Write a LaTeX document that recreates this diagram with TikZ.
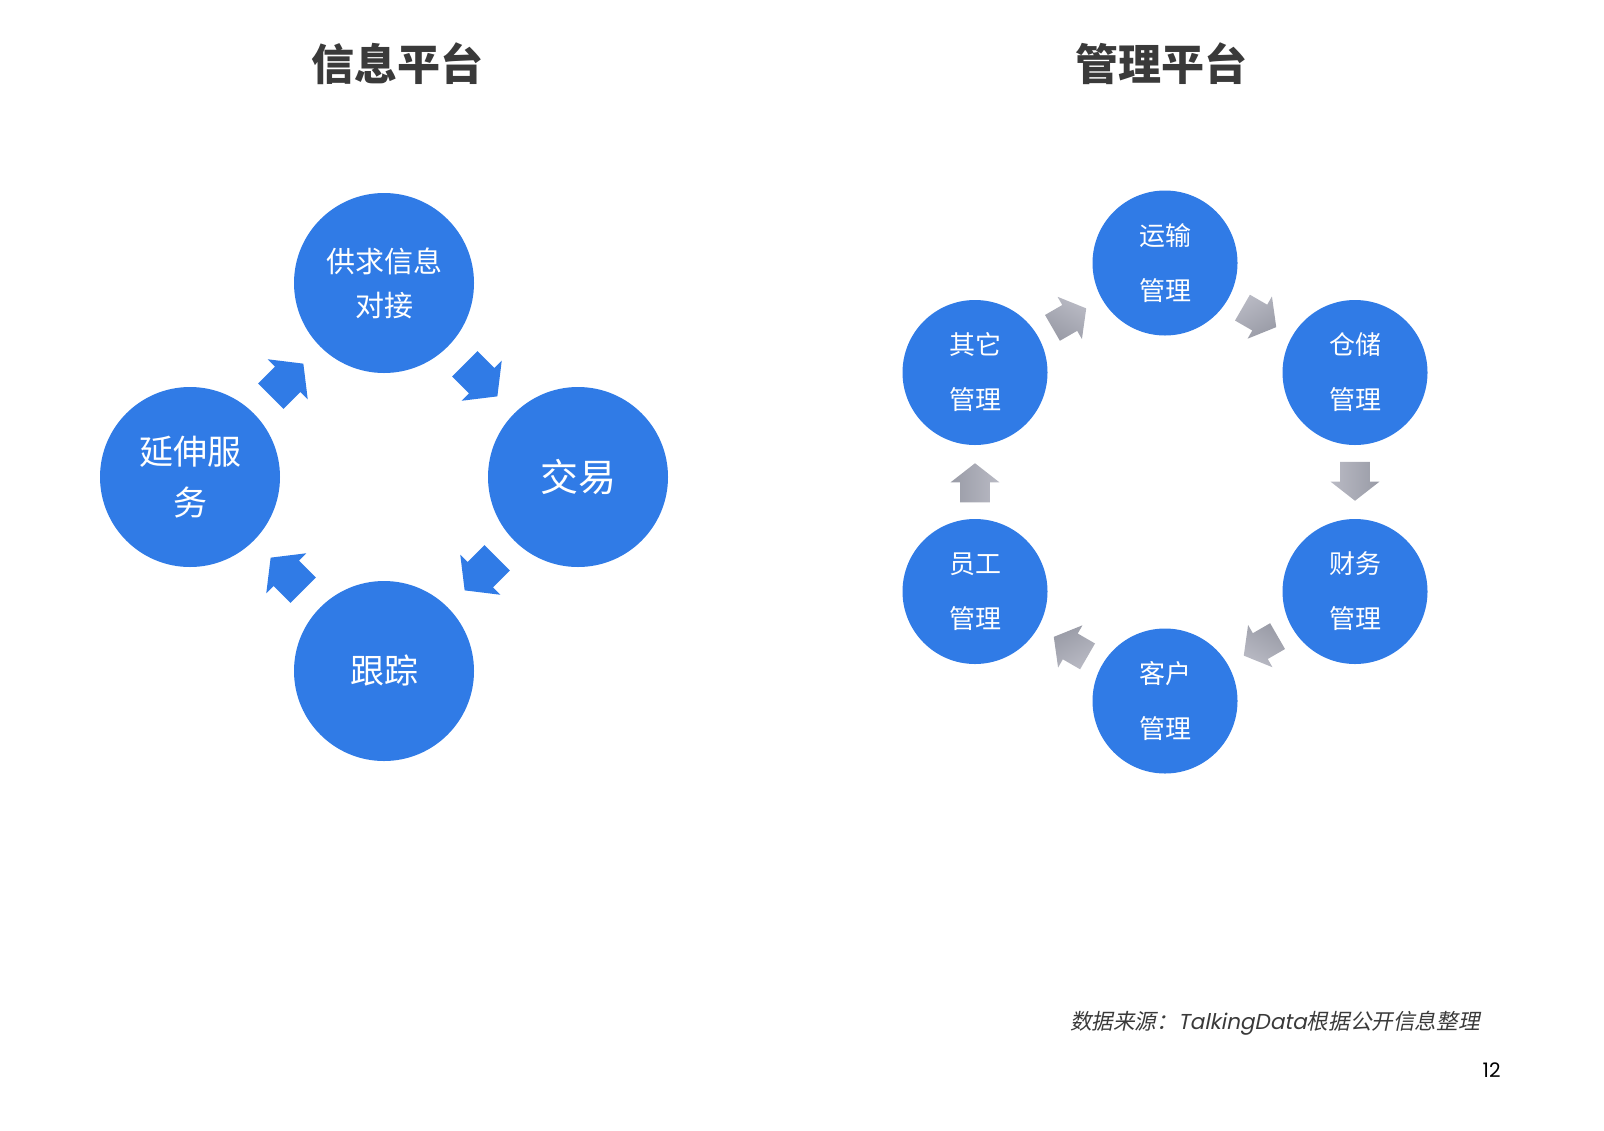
\documentclass[tikz,border=0pt]{standalone}
\usepackage{fontspec}
\newfontfamily\cjk{Noto Sans CJK SC}
\newfontfamily\cjkslant[FakeSlant=0.2]{Noto Sans CJK SC}
\newfontfamily\popslant[FakeSlant=0.2]{Poppins}
\newfontfamily\pop{Poppins}
\usetikzlibrary{calc,shapes.arrows}

\definecolor{circblue}{HTML}{307BE6}
\definecolor{titlegray}{HTML}{3A3A3A}
\definecolor{arrowlight}{HTML}{B9BAC4}
\definecolor{arrowdark}{HTML}{999BA6}

\tikzset{
  title/.style={text=titlegray, font=\cjk\bfseries\fontsize{21.5}{26}\selectfont},
  bigcirc/.style={circle, fill=circblue, minimum size=90pt, inner sep=0pt, text=white, align=center},
  smallcirc/.style={circle, fill=circblue, minimum size=72.5pt, inner sep=0pt, text=white, align=center,
    font=\cjk\fontsize{13}{27.5}\selectfont},
  bluearrow/.style={single arrow, fill=circblue, inner xsep=0pt, inner ysep=8.75pt, minimum height=23pt,
    single arrow head extend=5.25pt, single arrow tip angle=104, rotate=#1},
  grayarrow/.style={single arrow, top color=arrowlight, bottom color=arrowdark,
    shading angle=-#1, rotate=#1, inner xsep=0pt, inner ysep=7.25pt, minimum height=19.5pt,
    single arrow head extend=4.75pt, single arrow tip angle=104},
}

\begin{document}
\begin{tikzpicture}[x=0.5pt, y=-0.5pt]
  \useasboundingbox (0,0) rectangle (1604,1130);

  % =========================================================================
  % TITLES
  % =========================================================================
  \node[title] (t-info) at (397,64) {信息平台};
  \node[title] (t-mgmt) at (1161,64) {管理平台};

  % =========================================================================
  % LEFT: information platform, four circles
  % =========================================================================
  \begin{scope}[shift={(384,477)}]
    \node[bigcirc, font=\cjk\fontsize{14.5}{22}\selectfont] (match) at (0,-194) {供求信息\\对接};
    \node[bigcirc, font=\cjk\fontsize{19}{24}\selectfont] (trade) at (194,0) {交易};
    \node[bigcirc, font=\cjk\fontsize{17}{22}\selectfont] (track) at (0,194) {跟踪};
    \node[bigcirc, font=\cjk\fontsize{17}{25.5}\selectfont] (extend) at (-194,0) {延伸服\\务};
  \end{scope}

  % --- block arrows between them ---
  \node[bluearrow=-45] (a-mt) at ($(match)!0.475!(trade)$) {};
  \node[bluearrow=-135] (a-tt) at ($(trade)!0.475!(track)$) {};
  \node[bluearrow=135] (a-te) at ($(track)!0.475!(extend)$) {};
  \node[bluearrow=45] (a-em) at ($(extend)!0.475!(match)$) {};

  % =========================================================================
  % RIGHT: management platform, six circles
  % =========================================================================
  \begin{scope}[shift={(1165,482)}]
    \node[smallcirc] (transport) at (0,-219) {运输\\管理};
    \node[smallcirc] (storage) at (190,-109.5) {仓储\\管理};
    \node[smallcirc] (finance) at (190,109.5) {财务\\管理};
    \node[smallcirc] (customer) at (0,219) {客户\\管理};
    \node[smallcirc] (staff) at (-190,109.5) {员工\\管理};
    \node[smallcirc] (other) at (-190,-109.5) {其它\\管理};
  \end{scope}

  % --- gray arrows ---
  \node[grayarrow=30] (g-ot) at ($(other)!0.47!(transport)$) {};
  \node[grayarrow=-30] (g-ts) at ($(transport)!0.47!(storage)$) {};
  \node[grayarrow=-90] (g-sf) at ($(storage)!0.47!(finance)$) {};
  \node[grayarrow=-150] (g-fc) at ($(finance)!0.47!(customer)$) {};
  \node[grayarrow=150] (g-cs) at ($(customer)!0.47!(staff)$) {};
  \node[grayarrow=90] (g-so) at ($(staff)!0.47!(other)$) {};

  % =========================================================================
  % SOURCE & PAGE NUMBER
  % =========================================================================
  \node[anchor=east, text=titlegray, inner sep=0pt] (source) at (1480,1023)
    {\fontsize{10.8}{12}\selectfont\cjkslant 数据来源：\popslant TalkingData\cjkslant 根据公开信息整理};
  \node[anchor=east, text=black, inner sep=0pt] (page) at (1501,1070)
    {\pop\fontsize{10}{12}\selectfont 12};
\end{tikzpicture}
\end{document}
